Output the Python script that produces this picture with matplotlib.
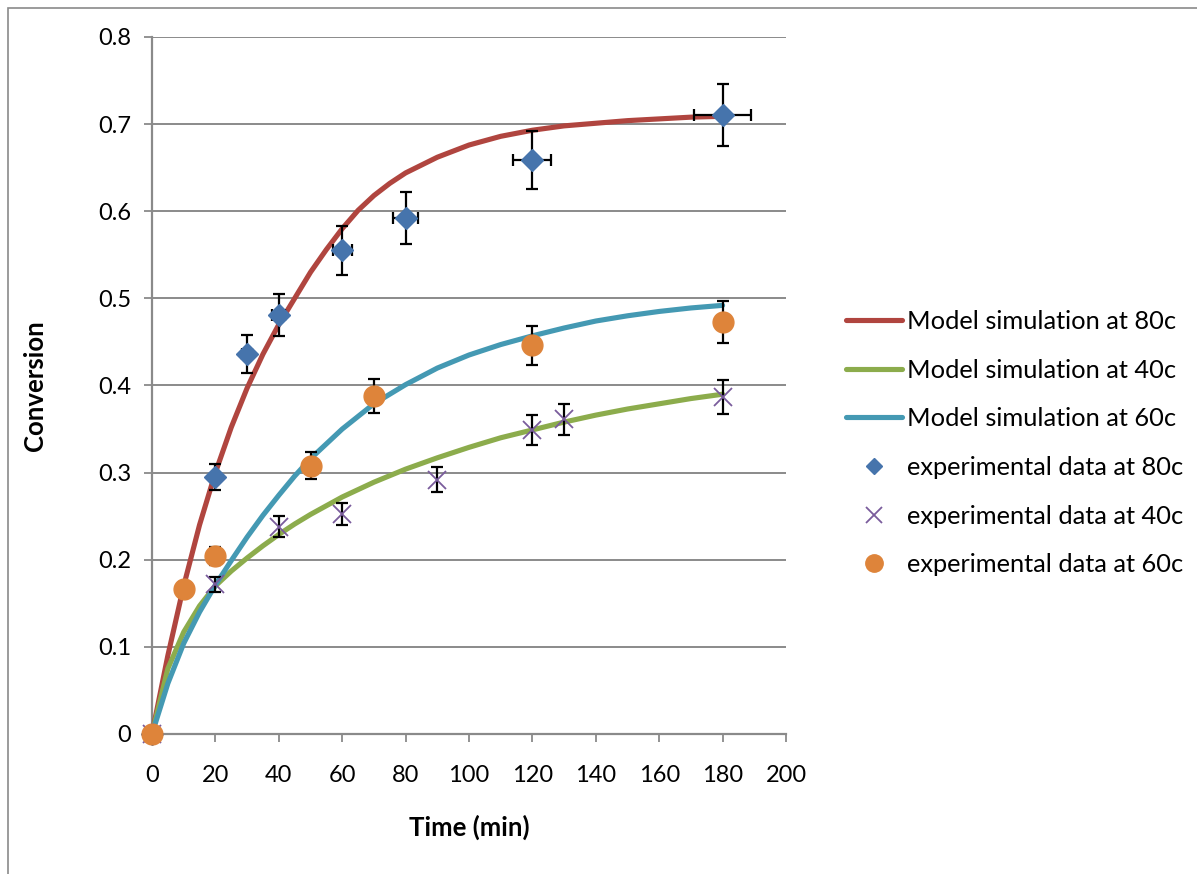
import matplotlib
matplotlib.use("Agg")
import matplotlib.pyplot as plt
from matplotlib.lines import Line2D
from matplotlib.patches import Rectangle
import numpy as np

# ---- model curves (time in min, conversion) ----
model_t_80 = [0, 5, 10, 15, 20, 25, 30, 35, 40, 45, 50, 55, 60, 65, 70, 75, 80,
              90, 100, 110, 120, 130, 140, 150, 160, 170, 180]
model_x_80 = [0.000, 0.090, 0.170, 0.240, 0.300, 0.352, 0.397, 0.436, 0.470, 0.500,
              0.530, 0.556, 0.580, 0.601, 0.618, 0.632, 0.644,
              0.662, 0.676, 0.686, 0.693, 0.698, 0.701, 0.704, 0.706, 0.708, 0.709]

model_t_40 = [0, 5, 10, 15, 20, 25, 30, 35, 40, 45, 50, 60, 70, 80, 90, 100,
              110, 120, 130, 140, 150, 160, 170, 180]
model_x_40 = [0.000, 0.075, 0.117, 0.147, 0.170, 0.187, 0.202, 0.216, 0.229, 0.241,
              0.252, 0.272, 0.289, 0.304, 0.317, 0.329, 0.340, 0.349, 0.358, 0.366,
              0.373, 0.379, 0.385, 0.390]

model_t_60 = [0, 5, 10, 15, 20, 25, 30, 35, 40, 45, 50, 60, 70, 80, 90, 100,
              110, 120, 130, 140, 150, 160, 170, 180]
model_x_60 = [0.000, 0.058, 0.104, 0.140, 0.171, 0.199, 0.226, 0.251, 0.274, 0.296,
              0.316, 0.350, 0.379, 0.401, 0.420, 0.435, 0.447, 0.457, 0.466, 0.474,
              0.480, 0.485, 0.489, 0.492]

# ---- experimental data ----
exp_t_80 = [0, 20, 30, 40, 60, 80, 120, 180]
exp_x_80 = [0.000, 0.295, 0.436, 0.481, 0.555, 0.592, 0.659, 0.710]

exp_t_40 = [0, 20, 40, 60, 90, 120, 130, 180]
exp_x_40 = [0.000, 0.172, 0.238, 0.252, 0.292, 0.349, 0.361, 0.387]

exp_t_60 = [0, 10, 20, 50, 70, 120, 180]
exp_x_60 = [0.000, 0.166, 0.204, 0.308, 0.388, 0.446, 0.473]

# percentage error bars (5 %)
ERR_FRACTION = 0.05

x_ticks = [0, 20, 40, 60, 80, 100, 120, 140, 160, 180, 200]
y_ticks = [0, 0.1, 0.2, 0.3, 0.4, 0.5, 0.6, 0.7, 0.8]
y_tick_labels = ["0", "0.1", "0.2", "0.3", "0.4", "0.5", "0.6", "0.7", "0.8"]

labels = ["Model simulation at 80c", "Model simulation at 40c", "Model simulation at 60c",
          "experimental data at 80c", "experimental data at 40c", "experimental data at 60c"]

RED = "#B0453F"
GREEN = "#8CAC4C"
TEAL = "#4499B3"
BLUE = "#4674AC"
PURPLE = "#7A5C9C"
ORANGE = "#DE843A"
GRAY = "#8A8A8A"

plt.rcParams["font.family"] = ["Lato", "DejaVu Sans"]
FS_TICK = 17
FS_LABEL = 18.5
FS_LEG = 18.3

fig = plt.figure(figsize=(11.97, 8.74), dpi=100)
ax = fig.add_axes([152 / 1197, 1 - 734 / 874, (786 - 152) / 1197, (734 - 37) / 874])

# model lines
lw = 3.7
for t, x, c in ((model_t_80, model_x_80, RED),
                (model_t_40, model_x_40, GREEN),
                (model_t_60, model_x_60, TEAL)):
    ax.plot(t, x, color=c, lw=lw, solid_joinstyle="round",
            solid_capstyle="round", zorder=3, clip_on=False)

eb_kw = dict(ecolor="black", elinewidth=1.6, capsize=4.5, capthick=1.6, linestyle="none")

# experimental points with error bars
t80 = np.array(exp_t_80, float)
x80 = np.array(exp_x_80, float)
ax.errorbar(t80, x80, yerr=ERR_FRACTION * x80, xerr=ERR_FRACTION * t80,
            zorder=4, **eb_kw)
ax.plot(t80, x80, linestyle="none", marker="D", ms=11, color=BLUE, mec=BLUE,
        zorder=5, clip_on=False)

t40 = np.array(exp_t_40, float)
x40 = np.array(exp_x_40, float)
ax.errorbar(t40, x40, yerr=ERR_FRACTION * x40, zorder=4, **eb_kw)
ax.plot(t40, x40, linestyle="none", marker="x", ms=13.5, mew=1.3, color=PURPLE,
        zorder=5, clip_on=False)

t60 = np.array(exp_t_60, float)
x60 = np.array(exp_x_60, float)
ax.errorbar(t60, x60, yerr=ERR_FRACTION * x60, zorder=4, **eb_kw)
ax.plot(t60, x60, linestyle="none", marker="o", ms=15, color=ORANGE, mec=ORANGE,
        zorder=6, clip_on=False)

# axes styling
ax.set_xlim(0, 200)
ax.set_ylim(0, 0.8)
ax.set_xticks(x_ticks)
ax.set_yticks(y_ticks)
ax.set_yticklabels(y_tick_labels)
for side in ("top", "right"):
    ax.spines[side].set_visible(False)
for side in ("left", "bottom"):
    ax.spines[side].set_color(GRAY)
    ax.spines[side].set_linewidth(1.6)
ax.yaxis.grid(True, color=GRAY, lw=1.4)
ax.set_axisbelow(True)
ax.tick_params(axis="both", direction="out", length=6, width=1.3, color=GRAY,
               labelsize=FS_TICK, labelcolor="black")
ax.tick_params(axis="x", pad=16)
ax.tick_params(axis="y", pad=9)

ax.set_xlabel("Time (min)", fontsize=FS_LABEL, fontweight="bold", labelpad=21)
ax.set_ylabel("Conversion", fontsize=FS_LABEL, fontweight="bold", labelpad=37)

# legend
handles = [
    Line2D([], [], color=RED, lw=lw, solid_capstyle="round"),
    Line2D([], [], color=GREEN, lw=lw, solid_capstyle="round"),
    Line2D([], [], color=TEAL, lw=lw, solid_capstyle="round"),
    Line2D([], [], linestyle="none", marker="D", ms=8.5, color=BLUE),
    Line2D([], [], linestyle="none", marker="x", ms=11, mew=1.3, color=PURPLE),
    Line2D([], [], linestyle="none", marker="o", ms=12.5, color=ORANGE),
]
fig.legend(handles, labels, loc="upper left", bbox_to_anchor=(846 / 1197, 1 - 310 / 874),
           frameon=False, fontsize=FS_LEG, handlelength=2.2, handletextpad=0.2,
           labelspacing=1.01, borderpad=0, borderaxespad=0)

# chart-area border (left and top edges)
fig.patches.append(Rectangle((8 / 1197, -0.5), 2.0, 0.5 + (1 - 8 / 874),
                             transform=fig.transFigure, fill=False,
                             edgecolor=GRAY, lw=1.2))

fig.savefig("out.png", dpi=100)
